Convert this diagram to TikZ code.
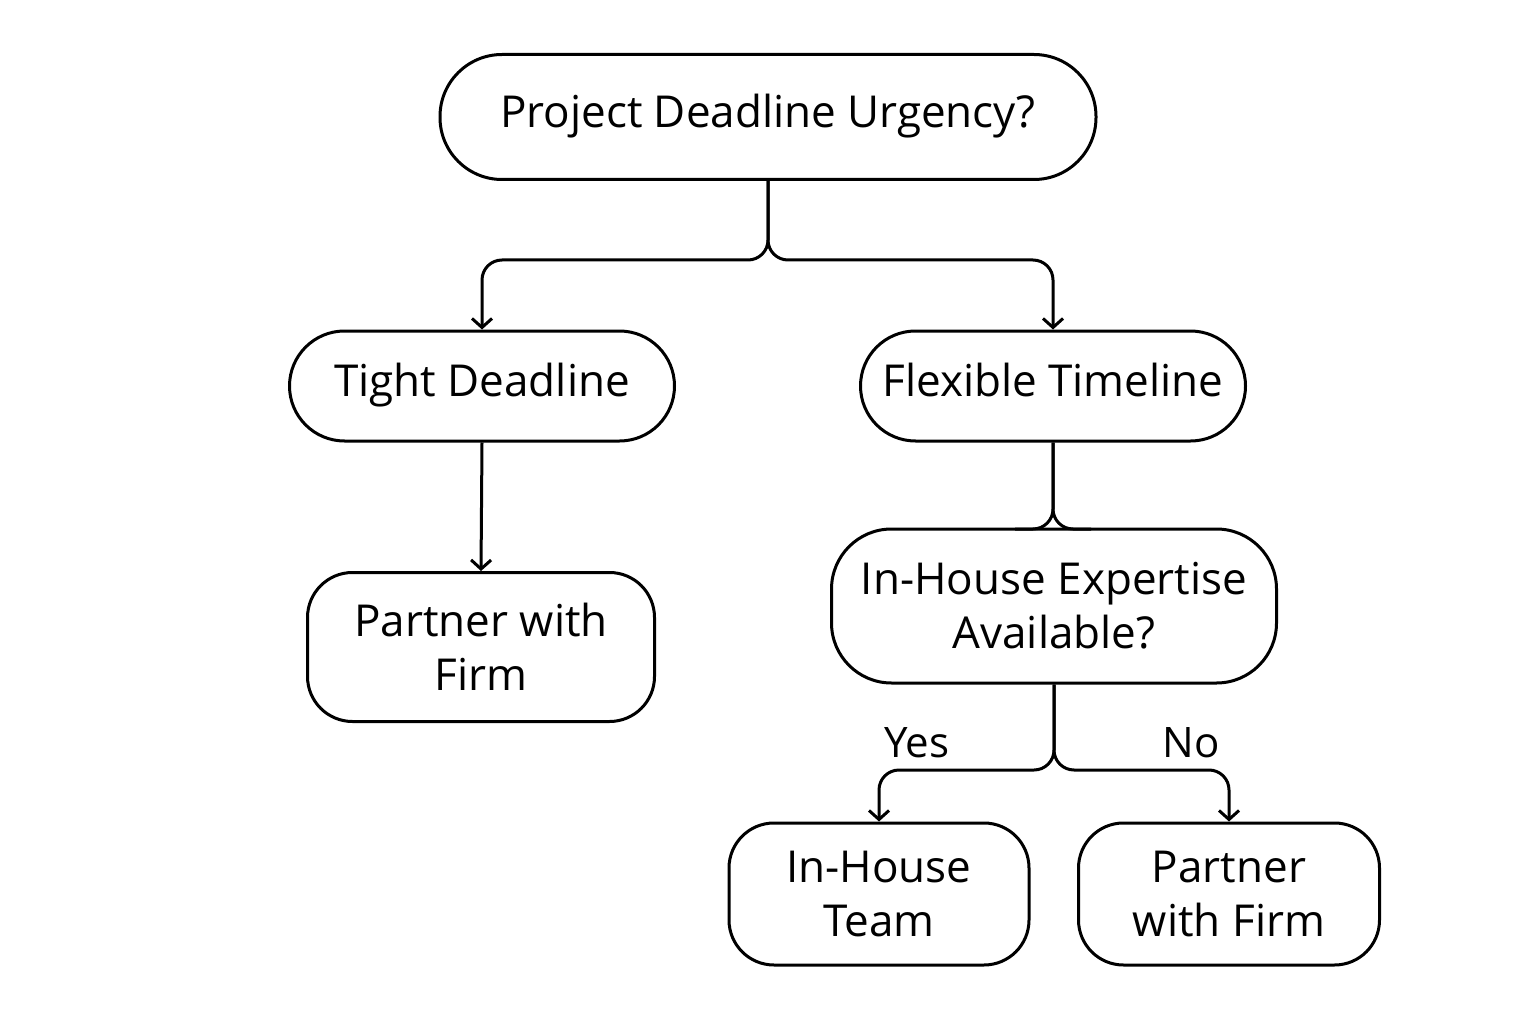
\documentclass[tikz,border=0pt]{standalone}
\usepackage{fontspec}
\setmainfont{Open Sans}
\usetikzlibrary{arrows.meta}
\begin{document}
\begin{tikzpicture}[x=1pt,y=-1pt,
  box/.style={draw, line width=3pt, rounded corners=#1, align=center, inner sep=0pt,
    font=\fontsize{44}{54}\selectfont},
  box/.default=45pt,
  con/.style={line width=3pt, rounded corners=20pt},
  arr/.style={con, -{Straight Barb[length=9pt,width=20pt,line width=3pt]}},
  lab/.style={font=\fontsize{42}{46}\selectfont}]
\useasboundingbox[fill=white] (0,0) rectangle (1536,1024);
\node[box=62pt, minimum width=656pt, minimum height=125pt] (top) at (768,117) {\strut Project Deadline Urgency?};
\node[box=55pt, minimum width=385pt, minimum height=110pt] (tight) at (482,386) {\strut Tight Deadline};
\node[box=55pt, minimum width=385pt, minimum height=110pt] (flex) at (1053,386) {\strut Flexible Timeline};
\node[box, minimum width=347pt, minimum height=149pt] (pl) at (481,647) {Partner with\\Firm};
\node[box=60pt, minimum width=445pt, minimum height=154pt] (exp) at (1054,606) {In-House Expertise\\Available?};
\node[box, minimum width=300pt, minimum height=142pt] (iht) at (879,894) {In-House\\Team};
\node[box, minimum width=301pt, minimum height=142pt] (pr) at (1229,894) {Partner\\with Firm};
\coordinate (jl) at (482,260); \coordinate (jr) at (1053,260);
\draw[arr] (top.south) |- (jl) -- (tight.north);
\draw[arr] (top.south) |- (jr) -- (flex.north);
\draw[arr] (tight.south) -- (pl.north);
\coordinate (fl) at (1015,529); \coordinate (fr) at (1091,529);
\draw[con] (flex.south) |- (fl);
\draw[con] (flex.south) |- (fr);
\coordinate (yl) at (879,770); \coordinate (yr) at (1229,770);
\draw[arr] (exp.south) |- (yl) -- (iht.north);
\draw[arr] (exp.south) |- (yr) -- (pr.north);
\node[lab] (yes) at (917,743) {Yes};
\node[lab] (no) at (1191,743) {No};
\end{tikzpicture}
\end{document}
